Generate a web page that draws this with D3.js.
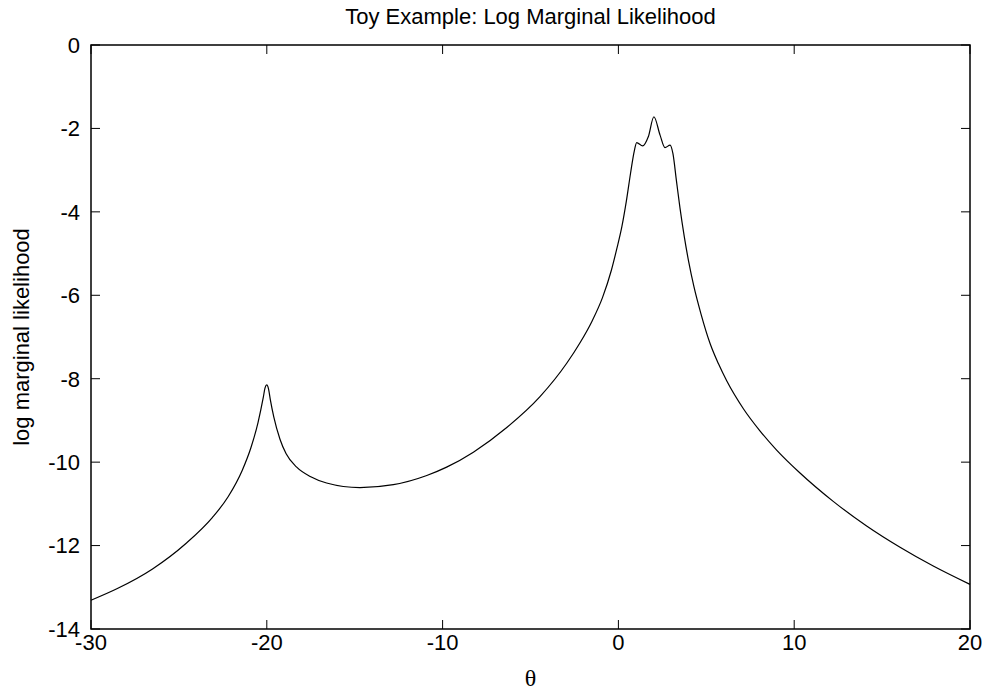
<!DOCTYPE html>
<html><head><meta charset="utf-8">
<script src="https://cdn.jsdelivr.net/npm/d3@7"></script>
<style>body{margin:0;background:#fff}</style>
</head><body>
<svg id="c" width="998" height="691"></svg>
<script>
const theta = [-30,-28.5,-26.5,-24.6,-23.1,-22.2,-21.4,-20.9,-20.5,-20.2,-20.1,-20.0,-19.9,-19.8,-19.6,-19.25,-18.9,-18.3,-17.5,-16.6,-14.7,-12.8,-10.9,-9.77,-8.25,-6.35,-4.46,-2.94,-2.2,-1.5,-0.9,-0.4,-0.1,0.2,0.45,0.7,0.9,1.04,1.38,1.7,2.02,2.37,2.65,2.94,3.1,3.3,3.5,3.75,4.0,4.3,4.7,5.21,5.7,6.16,7.11,8.05,9.0,10.33,12.22,14.12,16.02,17.91,20];
const logML = [-13.31,-13.03,-12.56,-11.95,-11.33,-10.83,-10.2,-9.65,-9.05,-8.45,-8.22,-8.15,-8.25,-8.5,-8.92,-9.45,-9.8,-10.12,-10.35,-10.5,-10.61,-10.54,-10.32,-10.12,-9.76,-9.17,-8.43,-7.63,-7.15,-6.62,-6.05,-5.4,-4.9,-4.35,-3.75,-3.05,-2.55,-2.34,-2.42,-2.2,-1.72,-2.16,-2.46,-2.40,-2.6,-3.25,-3.9,-4.6,-5.2,-5.8,-6.45,-7.15,-7.65,-8.05,-8.72,-9.25,-9.71,-10.26,-10.94,-11.53,-12.04,-12.49,-12.93];
const xTicks = [-30,-20,-10,0,10,20];
const yTicks = [0,-2,-4,-6,-8,-10,-12,-14];
const title = "Toy Example: Log Marginal Likelihood";
const xLabel = "θ";
const yLabel = "log marginal likelihood";

const svg = d3.select("#c");
const L=91, R=970, T=45, B=629;
const x = d3.scaleLinear().domain([-30,20]).range([L,R]);
const y = d3.scaleLinear().domain([-14,0]).range([B,T]);
const font = "Liberation Sans, Arial, Helvetica, sans-serif";
const fs = 22;

// ticks (inward, mirrored)
const tl = 9;
const g = svg.append("g").attr("stroke","#000").attr("stroke-width",1);
xTicks.forEach(v=>{
  g.append("line").attr("x1",x(v)).attr("x2",x(v)).attr("y1",B).attr("y2",B-tl);
  g.append("line").attr("x1",x(v)).attr("x2",x(v)).attr("y1",T).attr("y2",T+tl);
});
yTicks.forEach(v=>{
  g.append("line").attr("x1",L).attr("x2",L+tl).attr("y1",y(v)).attr("y2",y(v));
  g.append("line").attr("x1",R).attr("x2",R-tl).attr("y1",y(v)).attr("y2",y(v));
});
svg.append("rect").attr("x",L).attr("y",T).attr("width",R-L).attr("height",B-T)
  .attr("fill","none").attr("stroke","#000").attr("stroke-width",1.5);

// tick labels
svg.append("g").selectAll("text").data(xTicks).join("text")
  .attr("x",d=>x(d)).attr("y",B+21).attr("text-anchor","middle")
  .attr("font-family",font).attr("font-size",fs).text(d=>d);
svg.append("g").selectAll("text").data(yTicks).join("text")
  .attr("x",L-11).attr("y",d=>y(d)).attr("dy","0.36em").attr("text-anchor","end")
  .attr("font-family",font).attr("font-size",fs).text(d=>d);

// curve
const data = theta.map((t,i)=>[t,logML[i]]);
svg.append("path").datum(data)
  .attr("d", d3.line().x(d=>x(d[0])).y(d=>y(d[1])).curve(d3.curveMonotoneX))
  .attr("fill","none").attr("stroke","#000").attr("stroke-width",1.2);

// titles
svg.append("text").attr("x",(L+R)/2).attr("y",24).attr("text-anchor","middle")
  .attr("font-family",font).attr("font-size",fs).text(title);
svg.append("text").attr("x",(L+R)/2).attr("y",686).attr("text-anchor","middle")
  .attr("font-family","Liberation Serif, Times New Roman, serif").attr("font-size",24).text(xLabel);
svg.append("text").attr("transform",`translate(29,${(T+B)/2}) rotate(-90)`).attr("text-anchor","middle")
  .attr("font-family",font).attr("font-size",fs).text(yLabel);
</script>
</body></html>
